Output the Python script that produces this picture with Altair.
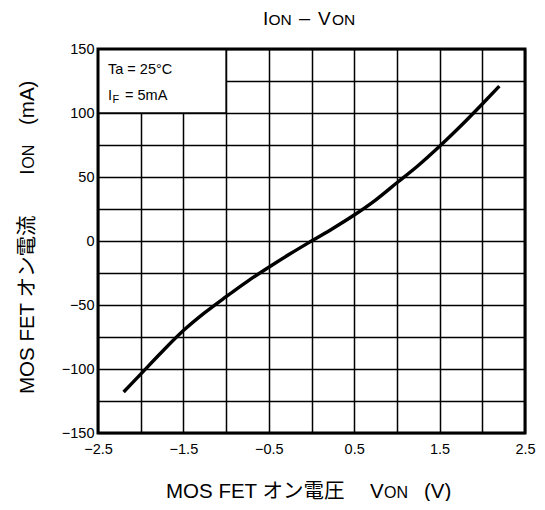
import altair as alt
import pandas as pd

# ---- data ----
von = [-2.2, -2.0, -1.75, -1.5, -1.25, -1.0, -0.75, -0.5, -0.25, 0.0,
       0.25, 0.5, 0.75, 1.0, 1.25, 1.5, 1.75, 2.0, 2.2]
ion = [-118, -104, -86.5, -70, -56, -43.5, -31.5, -20.5, -10, 0,
       9.8, 20.3, 32, 45.5, 59, 74, 90, 107, 121]

x_domain = [-2.5, 2.5]
y_domain = [-150, 150]
x_grid = [-2.5, -2.0, -1.5, -1.0, -0.5, 0.0, 0.5, 1.0, 1.5, 2.0, 2.5]
y_grid = list(range(-150, 151, 25))
legend_box_x = [-2.5, -1.0]
legend_box_y = [100, 150]

FONT = "'Liberation Sans', Arial, 'Noto Sans CJK JP', sans-serif"

curve = pd.DataFrame({"v": von, "i": ion})

xs = alt.Scale(domain=x_domain, nice=False, zero=False)
ys = alt.Scale(domain=y_domain, nice=False, zero=False)

xaxis = alt.Axis(
    values=x_grid, title=None, grid=True, ticks=False, domain=False,
    labelExpr="(round(datum.value*2) % 2 != 0) ? format(datum.value, '.1f') : ''",
    labelFontSize=14.5, labelPadding=9, labelColor="black", labelFont=FONT,
    gridColor="black", gridWidth=1.5, gridOpacity=1, labelFlush=False,
    labelOverlap=False)
yaxis = alt.Axis(
    values=y_grid, title=None, grid=True, ticks=False, domain=False,
    labelExpr="(datum.value % 50 == 0) ? format(datum.value, 'd') : ''",
    labelFontSize=14.5, labelPadding=4, labelColor="black", labelFont=FONT,
    gridColor="black", gridWidth=1.5, gridOpacity=1, labelOverlap=False,
    labelFlush=False)

base_line = alt.Chart(curve).mark_line(
    color="black", strokeWidth=3.4, interpolate="monotone"
).encode(
    x=alt.X("v:Q", scale=xs, axis=xaxis),
    y=alt.Y("i:Q", scale=ys, axis=yaxis),
)

box = alt.Chart(pd.DataFrame({"x": [legend_box_x[0]], "x2": [legend_box_x[1]],
                              "y": [legend_box_y[0]], "y2": [legend_box_y[1]]})).mark_rect(
    fill="white", stroke="black", strokeWidth=1.5
).encode(x=alt.X("x:Q", scale=xs, axis=xaxis), x2="x2:Q",
         y=alt.Y("y:Q", scale=ys, axis=yaxis), y2="y2:Q")

border = alt.Chart(pd.DataFrame({"x": [x_domain[0]], "x2": [x_domain[1]],
                                 "y": [y_domain[0]], "y2": [y_domain[1]]})).mark_rect(
    fill="transparent", stroke="black", strokeWidth=3
).encode(x=alt.X("x:Q", scale=xs, axis=xaxis), x2="x2:Q",
         y=alt.Y("y:Q", scale=ys, axis=yaxis), y2="y2:Q")


def label(text, x, y, size, angle=0):
    return alt.Chart(alt.Data(values=[{}])).mark_text(
        text=text, fontSize=size, angle=angle, align="left",
        baseline="alphabetic", font=FONT, color="black"
    ).encode(x=alt.value(x), y=alt.value(y))


texts = [
    # title  I_ON – V_ON
    label("I", 165, -24, 19),
    label("ON", 170.5, -24, 15.5),
    label("–", 201, -24, 20),
    label("V", 220, -24, 19),
    label("ON", 234, -24, 15.5),
    # x title
    label("MOS FET オン電圧", 68, 449, 20.5),
    label("V", 272, 449, 20.5),
    label("ON", 286, 449, 16),
    label("(V)", 326, 449, 20.5),
    # y title
    label("MOS FET オン電流", -64, 345, 20.5, 270),
    label("I", -64, 126, 20.5, 270),
    label("ON", -64, 119.8, 16, 270),
    label("(mA)", -64, 76, 20.5, 270),
    # legend
    label("Ta = 25°C", 10, 24.5, 14.5),
    label("I", 10, 51, 14.5),
    label("F", 14.5, 53.5, 11),
    label("= 5mA", 27, 51, 14.5),
]

chart = alt.layer(base_line, box, border, *texts).properties(
    width=427, height=384,
    padding={"left": 90, "top": 41, "right": 12, "bottom": 68},
    autosize=alt.AutoSizeParams(type="none"),
).configure_view(stroke="transparent")

chart.save("out.html", embed_options={"renderer": "svg", "actions": False})
